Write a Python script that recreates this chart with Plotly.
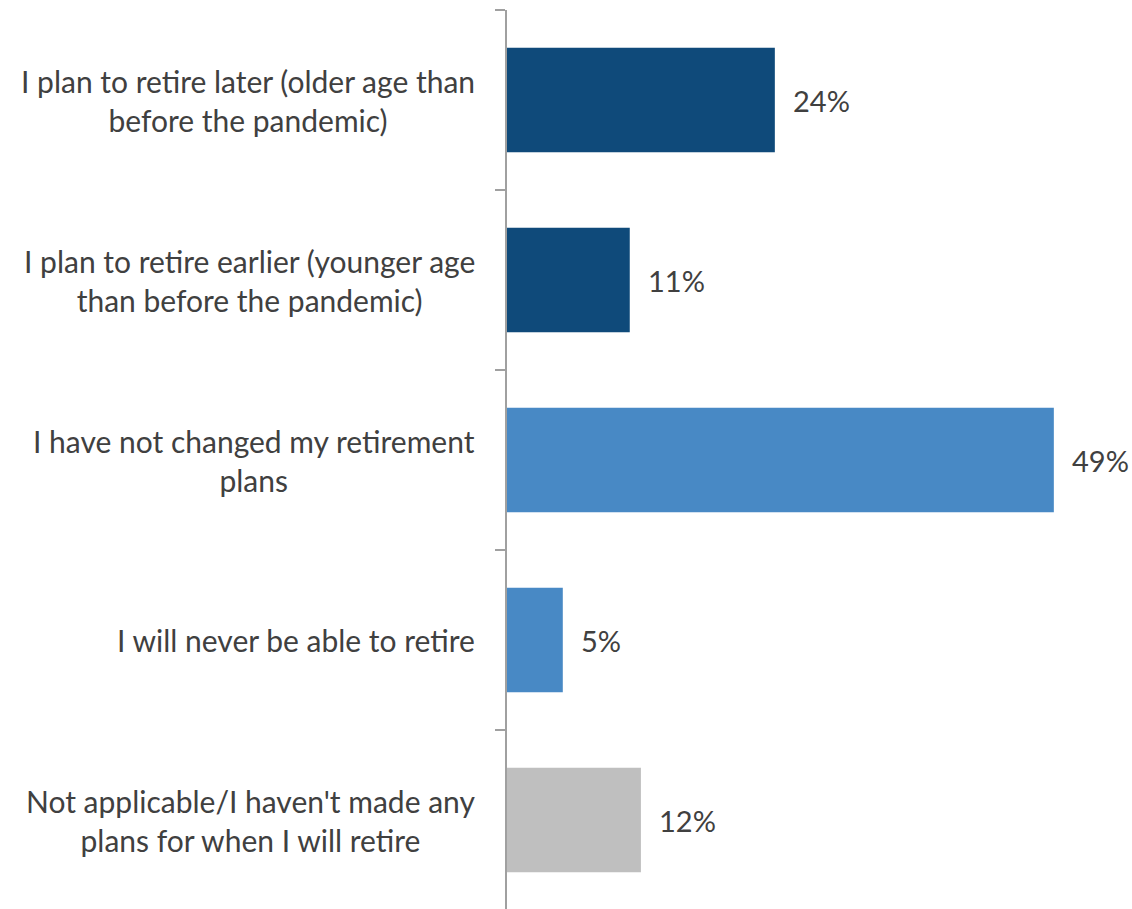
import plotly.graph_objects as go

categories = [
    "I plan to retire later (older age than<br>before the pandemic)",
    "I plan to retire earlier (younger age<br>than before the pandemic)",
    "I have not changed my retirement<br>plans",
    "I will never be able to retire",
    "Not applicable/I haven't made any<br>plans for when I will retire",
]
values = [24, 11, 49, 5, 12]
value_labels = ["24%", "11%", "49%", "5%", "12%"]
bar_colors = ["#0F4A7A", "#0F4A7A", "#4889C5", "#4889C5", "#BFBFBF"]

FONT = "Lato"
TEXT_COLOR = "#404040"

fig = go.Figure(
    go.Bar(
        x=values,
        y=categories,
        orientation="h",
        marker=dict(color=bar_colors, line=dict(width=0)),
        width=0.58,
        hoverinfo="skip",
    )
)

# Category labels: centered multi-line blocks right-aligned against the axis
for cat in categories:
    fig.add_annotation(
        x=0, y=cat, xref="paper", yref="y",
        text=cat, showarrow=False,
        xanchor="right", yanchor="middle", align="center",
        xshift=-30,
        font=dict(family=FONT, size=30, color=TEXT_COLOR),
    )

# Value labels beside each bar
for cat, v, lab in zip(categories, values, value_labels):
    fig.add_annotation(
        x=v, y=cat, xref="x", yref="y",
        text=lab, showarrow=False,
        xanchor="left", yanchor="middle",
        xshift=16,
        font=dict(family=FONT, size=29, color=TEXT_COLOR),
    )

fig.update_layout(
    width=1132, height=909,
    margin=dict(l=507, r=67, t=10, b=0),
    plot_bgcolor="white", paper_bgcolor="white",
    showlegend=False,
)
fig.update_xaxes(range=[0, 50], visible=False, fixedrange=True)
fig.update_yaxes(
    range=[4.494, -0.5],
    showticklabels=False,
    showline=True, linecolor="#A0A0A0", linewidth=2,
    ticks="outside", ticklen=10, tickcolor="#A0A0A0", tickwidth=2,
    tickson="boundaries",
    showgrid=False, zeroline=False,
)

fig.write_html("out.html")
